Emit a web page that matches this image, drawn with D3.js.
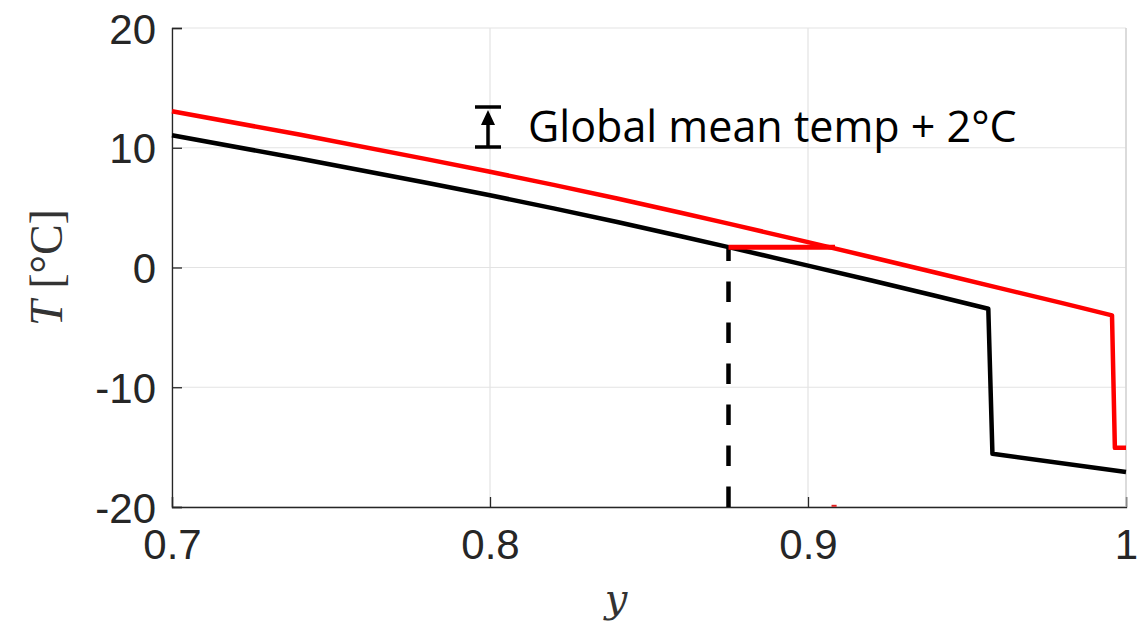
<!DOCTYPE html>
<html>
<head>
<meta charset="utf-8">
<script src="https://cdn.jsdelivr.net/npm/d3@7"></script>
<style>
  body { margin: 0; background: #fff; }
  .tick text { font-family: "Liberation Sans", Arial, sans-serif; fill: #262626; }
</style>
</head>
<body>
<div id="chart"></div>
<script>
// black curve: present-day temperature profile
var blackY = [0.70, 0.74, 0.78, 0.80, 0.82, 0.84, 0.86, 0.875, 0.90, 0.92, 0.94, 0.9567, 0.958, 1.0];
var blackT = [11.05, 9.1, 7.08, 6.03, 4.94, 3.8, 2.61, 1.70, 0.16, -1.09, -2.36, -3.44, -15.56, -17.07];

// red curve: global mean temp + 2 C
var redY = [0.70, 0.74, 0.78, 0.80, 0.82, 0.84, 0.86, 0.875, 0.90, 0.92, 0.94, 0.96, 0.98, 0.9956, 0.9965, 1.0];
var redT = [13.05, 11.1, 9.05, 8.0, 6.9, 5.76, 4.57, 3.66, 2.12, 0.86, -0.42, -1.70, -2.98, -4.0, -15.06, -15.06];

// ice line shift
var shiftY = [0.875, 0.9085];
var shiftT = [1.70, 1.70];
var iceLineY = 0.875;

var xTicks = [0.7, 0.8, 0.9, 1];
var yTicks = [-20, -10, 0, 10, 20];

var width = 1145, height = 634;
var margin = { left: 172, right: 19, top: 28, bottom: 127 };
var axisColor = "#262626";

var svg = d3.select("#chart").append("svg")
  .attr("width", width)
  .attr("height", height);

var x = d3.scaleLinear().domain([0.7, 1]).range([margin.left, width - margin.right]);
var y = d3.scaleLinear().domain([-20, 20]).range([height - margin.bottom, margin.top]);

// grid
svg.append("g")
  .selectAll("line")
  .data(xTicks)
  .enter()
  .append("line")
  .attr("x1", function (d) { return x(d); })
  .attr("x2", function (d) { return x(d); })
  .attr("y1", y(-20))
  .attr("y2", y(20))
  .attr("stroke", "#e3e3e3")
  .attr("stroke-width", 1.2);

svg.append("g")
  .selectAll("line")
  .data(yTicks)
  .enter()
  .append("line")
  .attr("x1", x(0.7))
  .attr("x2", x(1))
  .attr("y1", function (d) { return y(d); })
  .attr("y2", function (d) { return y(d); })
  .attr("stroke", "#e3e3e3")
  .attr("stroke-width", 1.2);

// axes
var xAxis = svg.append("g")
  .attr("transform", "translate(0," + y(-20) + ")")
  .call(d3.axisBottom(x).tickValues(xTicks).tickSize(-10).tickPadding(22)
    .tickFormat(function (d) { return String(d); }));

var yAxis = svg.append("g")
  .attr("transform", "translate(" + x(0.7) + ",0)")
  .call(d3.axisLeft(y).tickValues(yTicks).tickSize(-10).tickPadding(16)
    .tickFormat(function (d) { return String(d); }));

[xAxis, yAxis].forEach(function (a) {
  a.select(".domain").attr("stroke", axisColor).attr("stroke-width", 1.3);
  a.selectAll(".tick line").attr("stroke", axisColor).attr("stroke-width", 1.3);
  a.selectAll(".tick text").attr("font-size", 42);
});
xAxis.selectAll(".tick text").attr("dy", "0.71em");
yAxis.selectAll(".tick text").attr("dy", "0.36em");

// right edge of box
svg.append("line")
  .attr("x1", x(1)).attr("x2", x(1))
  .attr("y1", y(-20)).attr("y2", y(20))
  .attr("stroke", "#cfcfcf")
  .attr("stroke-width", 1.2);

var line = d3.line()
  .x(function (d) { return x(d[0]); })
  .y(function (d) { return y(d[1]); });

function pairs(a, b) {
  return a.map(function (v, i) { return [v, b[i]]; });
}

// dashed ice line
svg.append("line")
  .attr("x1", x(iceLineY)).attr("x2", x(iceLineY))
  .attr("y1", y(-20)).attr("y2", y(shiftT[0]))
  .attr("stroke", "#000")
  .attr("stroke-width", 4.5)
  .attr("stroke-dasharray", "20.5,20.5");

svg.append("path")
  .datum(pairs(blackY, blackT))
  .attr("d", line)
  .attr("fill", "none")
  .attr("stroke", "#000")
  .attr("stroke-width", 4.5)
  .attr("stroke-linejoin", "round");

svg.append("path")
  .datum(pairs(redY, redT))
  .attr("d", line)
  .attr("fill", "none")
  .attr("stroke", "#ff0000")
  .attr("stroke-width", 4.5)
  .attr("stroke-linejoin", "round");

svg.append("path")
  .datum(pairs(shiftY, shiftT))
  .attr("d", line)
  .attr("fill", "none")
  .attr("stroke", "#ff0000")
  .attr("stroke-width", 5);

// tiny red mark on the axis
svg.append("line")
  .attr("x1", x(0.9074)).attr("x2", x(0.909))
  .attr("y1", y(-19.9)).attr("y2", y(-19.9))
  .attr("stroke", "#e02020")
  .attr("stroke-width", 2);

// axis labels
svg.append("text")
  .attr("x", 616)
  .attr("y", 612)
  .attr("text-anchor", "middle")
  .attr("font-family", "'DejaVu Serif', 'Liberation Serif', serif")
  .attr("font-style", "italic")
  .attr("font-size", 40)
  .attr("fill", "#333")
  .text("y");

var yl = svg.append("text")
  .attr("transform", "translate(62," + y(0) + ") rotate(-90)")
  .attr("text-anchor", "middle")
  .attr("font-family", "'Liberation Serif', serif")
  .attr("font-size", 46)
  .attr("fill", "#333");
yl.append("tspan").attr("font-style", "italic").text("T");
yl.append("tspan").text(" [\u00B0C]");

// annotation: bar with arrow
var ax = 488, aTop = 107, aBot = 147;
var ann = svg.append("g").attr("stroke", "#000").attr("stroke-width", 3.5);
ann.append("line").attr("x1", ax - 13).attr("x2", ax + 13).attr("y1", aTop).attr("y2", aTop);
ann.append("line").attr("x1", ax - 13).attr("x2", ax + 13).attr("y1", aBot).attr("y2", aBot);
ann.append("line").attr("x1", ax).attr("x2", ax).attr("y1", aTop + 10).attr("y2", aBot);
svg.append("path")
  .attr("d", "M" + ax + "," + (aTop + 3) + "L" + (ax - 7) + "," + (aTop + 18) + "L" + (ax + 7) + "," + (aTop + 18) + "Z")
  .attr("fill", "#000");

var annText = svg.append("text")
  .attr("x", 528)
  .attr("y", 142)
  .attr("font-family", "'Open Sans', 'Noto Sans', sans-serif")
  .attr("font-size", 38)
  .attr("fill", "#000")
  .text("Global mean temp + 2\u00B0C");
var tl = annText.node().getComputedTextLength();
annText.attr("font-size", 38 * 489 / tl);
</script>
</body>
</html>
